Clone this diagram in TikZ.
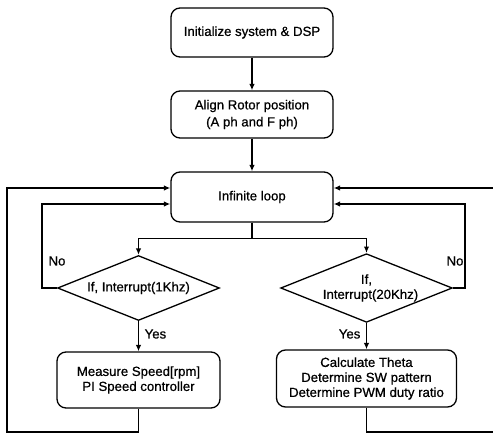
\documentclass[tikz,border=0pt]{standalone}
\usepackage{fontspec}
\setmainfont{Liberation Sans}[FakeBold=0.7]
\usetikzlibrary{arrows.meta,shapes.geometric}
\begin{document}
\begin{tikzpicture}[x=1pt,y=-1pt,line width=1.3pt,
  txt/.style={font=\fontsize{13.2}{15}\selectfont},
  box/.style={txt,draw,rounded corners=9pt,align=center,inner sep=0pt},
  decision/.style={txt,draw,diamond,shape aspect=2.5,inner sep=0pt,align=center,
    minimum width=162pt,minimum height=65pt},
  flow/.style={-{Latex[length=6.5pt,width=5.5pt]}},
  lbl/.style={txt,inner sep=0pt}]
\useasboundingbox (0,0) rectangle (493,437);

% process boxes
\node[box,minimum width=162pt,minimum height=49pt] (init) at (252,32.5) {Initialize system \& DSP};
\node[box,minimum width=162pt,minimum height=47pt,
  font=\fontsize{13.2}{17}\selectfont] (align) at (252,114.5) {Align Rotor position\\(A ph and F ph)};
\node[box,minimum width=162pt,minimum height=50pt] (loop) at (252,197) {Infinite loop};

% interrupt tests
\node[decision] (dec1) at (138.5,288) {If, Interrupt(1Khz)};
\node[decision] (dec2) at (366.5,288) {If,\\\hspace*{8pt}Interrupt(20Khz)};

% interrupt service routines
\node[box,minimum width=163pt,minimum height=56pt] (meas) at (138.5,380) {Measure Speed[rpm]\\PI Speed controller};
\node[box,minimum width=180pt,minimum height=57pt] (calc) at (366.5,378.5) {Calculate Theta\\Determine SW pattern\\Determine PWM duty ratio};

% helper points of the loop-back lines
\coordinate (inL) at (42,204);
\coordinate (inR) at (465,204);
\coordinate (oL) at (7,188);
\coordinate (oR) at (493,188);
\coordinate (botL) at (7,432);
\coordinate (botR) at (493,432);

% main sequence
\draw[flow] (init) -- (align);
\draw[flow] (align) -- (loop);
\draw[flow] (loop.south) -- ++(0,16) -| (dec1.north);
\draw[flow] (loop.south) -- ++(0,16) -| (dec2.north);

% yes branches
\draw[flow] (dec1.south) -- (meas.north);
\draw[flow] (dec2.south) -- (calc.north);
\node[lbl,anchor=west] (yes1) at (144,334) {Yes};
\node[lbl,anchor=east] (yes2) at (361,334) {Yes};

% no branches back to the loop
\draw[flow] (dec1.west) -| (inL) -- (inL -| loop.west);
\draw[flow] (dec2.east) -| (inR) -- (inR -| loop.east);
\node[lbl] (no1) at (57,261) {No};
\node[lbl] (no2) at (455,261) {No};

% returns after the service routines
\draw[flow] (meas.south) |- (botL) -- (oL) -- (oL -| loop.west);
\draw (calc.south) |- (botR);
\draw[flow] (oR) -- (oR -| loop.east);
\end{tikzpicture}
\end{document}
